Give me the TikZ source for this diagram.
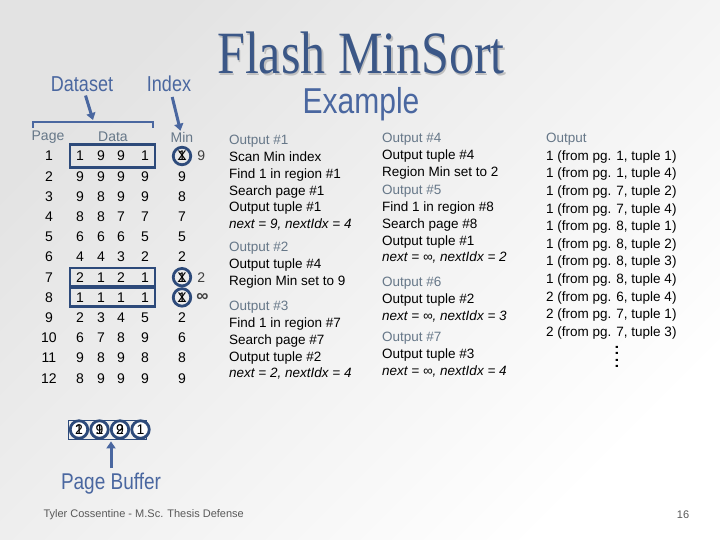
\documentclass[tikz,border=0pt]{standalone}
\usepackage{fontspec}
\setmainfont{Liberation Sans}
\newfontfamily\titlefont{Liberation Serif}
\usepackage{xcolor}
\usetikzlibrary{positioning,arrows.meta,fit}
\definecolor{headblue}{HTML}{4A67A0}
\definecolor{boxblue}{HTML}{2D4A7A}
\definecolor{hdrgrey}{HTML}{667788}
\definecolor{titleblue}{HTML}{3B5787}
\newcommand{\tallbox}[1]{\scalebox{1}[1.2]{#1}}

\begin{document}
\begin{tikzpicture}[x=1pt,y=-1pt,
    cell/.style={inner sep=0pt,font=\fontsize{14}{16}\selectfont},
    hdr/.style={inner sep=0pt,text=hdrgrey,font=\fontsize{14}{16}\selectfont},
    lbl/.style={inner sep=0pt,text=headblue,font=\fontsize{18}{20}\selectfont},
    xmark/.style={circle,draw=boxblue,line width=2.8pt,minimum size=17.5pt,inner sep=0pt,font=\fontsize{14}{16}\selectfont},
    rowbox/.style={draw=boxblue,line width=2.2pt,inner xsep=6pt},
    arr/.style={-{Triangle[length=7pt,width=9pt]},line width=3pt,headblue},
    outtxt/.style={anchor=north west,align=left,inner sep=0pt,font=\fontsize{13.5}{16.8}\selectfont},
  ]
  \shade[top color=gray!22,bottom color=white,shading angle=45] (0,0) rectangle (720,540);
  \useasboundingbox (0,0) rectangle (720,540);

  \node[text=gray!50,inner sep=0pt,font=\titlefont\fontsize{50}{52}\selectfont] (titleshadow) at (362.5,54.5) {\tallbox{Flash MinSort}};
  \node[text=titleblue,inner sep=0pt,font=\titlefont\fontsize{50}{52}\selectfont] (title) at (361,53) {\tallbox{Flash MinSort}};
  \node[text=headblue,inner sep=0pt,font=\fontsize{30}{32}\selectfont] (example) at (361,104) {\tallbox{Example}};

  \node[lbl] (dataset) at (82,84) {\tallbox{Dataset}};
  \node[lbl] (index) at (169,84) {\tallbox{Index}};
  \node[hdr] (pagehd) at (48,137) {Page};
  \node[hdr] (datahd) at (113,137) {Data};
  \node[hdr] (minhd) at (182,137) {Min};

  \draw[headblue,line width=2.6pt] (33,128) -- (33,122) -- (153,122) -- (153,128);
  \coordinate (bracetip) at (93,120);
  \draw[arr,shorten <=4pt] (dataset) -- (bracetip);
  \draw[arr,shorten <=5pt,shorten >=1pt] (index) -- (minhd);

  \foreach \r/\a/\b/\c/\d/\m in {1/1/9/9/1/1,2/9/9/9/9/9,3/9/8/9/9/8,4/8/8/7/7/7,
      5/6/6/6/5/5,6/4/4/3/2/2,7/2/1/2/1/1,8/1/1/1/1/1,9/2/3/4/5/2,10/6/7/8/9/6,
      11/9/8/9/8/8,12/8/9/9/9/9} {
    \node[cell] (pg\r) at (49,{156+(\r-1)*20.2}) {\r};
    \node[cell] (da\r) at (80,{156+(\r-1)*20.2}) {\a};
    \node[cell] (db\r) at (101,{156+(\r-1)*20.2}) {\b};
    \node[cell] (dc\r) at (121,{156+(\r-1)*20.2}) {\c};
    \node[cell] (dd\r) at (145,{156+(\r-1)*20.2}) {\d};
    \node[cell] (mn\r) at (182,{156+(\r-1)*20.2}) {\m};
  }

  \node[rowbox,inner ysep=6.5pt,fit=(da1)(dd1)] (box1) {};
  \node[rowbox,inner ysep=4pt,fit=(da7)(dd7)] (box7) {};
  \node[rowbox,inner ysep=4pt,fit=(da8)(dd8)] (box8) {};

  \node[xmark] (x1) at (mn1) {X};
  \node[xmark] (x7) at (mn7) {X};
  \node[xmark] (x8) at (mn8) {X};
  \node[cell,text=black!75,right=5pt of x1] (nx1) {9};
  \node[cell,text=black!75,right=5pt of x7] (nx7) {2};
  \node[cell,text=black!75,font=\fontsize{17}{17}\selectfont\bfseries,right=4pt of x8] (nx8) {∞};

  \node[draw=boxblue,line width=0.8pt,minimum width=78pt,minimum height=19pt,inner sep=0pt] (pbox) at (107,429.5) {};
  \foreach \i/\t in {1/{\makebox[0pt]{2}\makebox[0pt]{1}},2/{\makebox[0pt]{9}\makebox[0pt]{1}},
      3/{\makebox[0pt]{9}\makebox[0pt]{2}},4/{1}} {
    \node[xmark,fill=white] (buf\i) at ({79+(\i-1)*20.5},429.5) {\t};
  }
  \node[lbl,font=\fontsize{19}{21}\selectfont] (pbuf) at (111,484) {\tallbox{Page Buffer}};
  \draw[arr,shorten <=5pt,shorten >=2pt] (pbuf.north) -- (pbuf.north |- pbox.south);

  \node[outtxt] (o1) at (229,135) {\textcolor{hdrgrey}{Output \#1}\\Scan Min index\\Find 1 in region \#1\\Search page \#1\\Output tuple \#1\\\textit{next = 9, nextIdx = 4}};
  \node[outtxt] (o2) at (229,242) {\textcolor{hdrgrey}{Output \#2}\\Output tuple \#4\\Region Min set to 9};
  \node[outtxt] (o3) at (229,301) {\textcolor{hdrgrey}{Output \#3}\\Find 1 in region \#7\\Search page \#7\\Output tuple \#2\\\textit{next = 2, nextIdx = 4}};

  \node[outtxt] (o4) at (382,133) {\textcolor{hdrgrey}{Output \#4}\\Output tuple \#4\\Region Min set to 2};
  \node[outtxt] (o5) at (382,185) {\textcolor{hdrgrey}{Output \#5}\\Find 1 in region \#8\\Search page \#8\\Output tuple \#1\\\textit{next = ∞, nextIdx = 2}};
  \node[outtxt] (o6) at (382,277) {\textcolor{hdrgrey}{Output \#6}\\Output tuple \#2\\\textit{next = ∞, nextIdx = 3}};
  \node[outtxt] (o7) at (382,332) {\textcolor{hdrgrey}{Output \#7}\\Output tuple \#3\\\textit{next = ∞, nextIdx = 4}};

  \node[outtxt,font=\fontsize{13.5}{17.6}\selectfont] (res) at (546,133) {\textcolor{hdrgrey}{Output}\\
    1 (from pg. 1, tuple 1)\\1 (from pg. 1, tuple 4)\\1 (from pg. 7, tuple 2)\\1 (from pg. 7, tuple 4)\\
    1 (from pg. 8, tuple 1)\\1 (from pg. 8, tuple 2)\\1 (from pg. 8, tuple 3)\\1 (from pg. 8, tuple 4)\\
    2 (from pg. 6, tuple 4)\\2 (from pg. 7, tuple 1)\\2 (from pg. 7, tuple 3)};
  \node[rotate=90,inner sep=0pt,font=\fontsize{22}{22}\selectfont] (dots) at (617,357) {....};

  \node[anchor=west,text=black!65,font=\fontsize{11}{13}\selectfont] (foot) at (40,515) {Tyler Cossentine - M.Sc. Thesis Defense};
  \node[text=black!65,font=\fontsize{11}{13}\selectfont] (pgno) at (683,515) {16};
\end{tikzpicture}
\end{document}
